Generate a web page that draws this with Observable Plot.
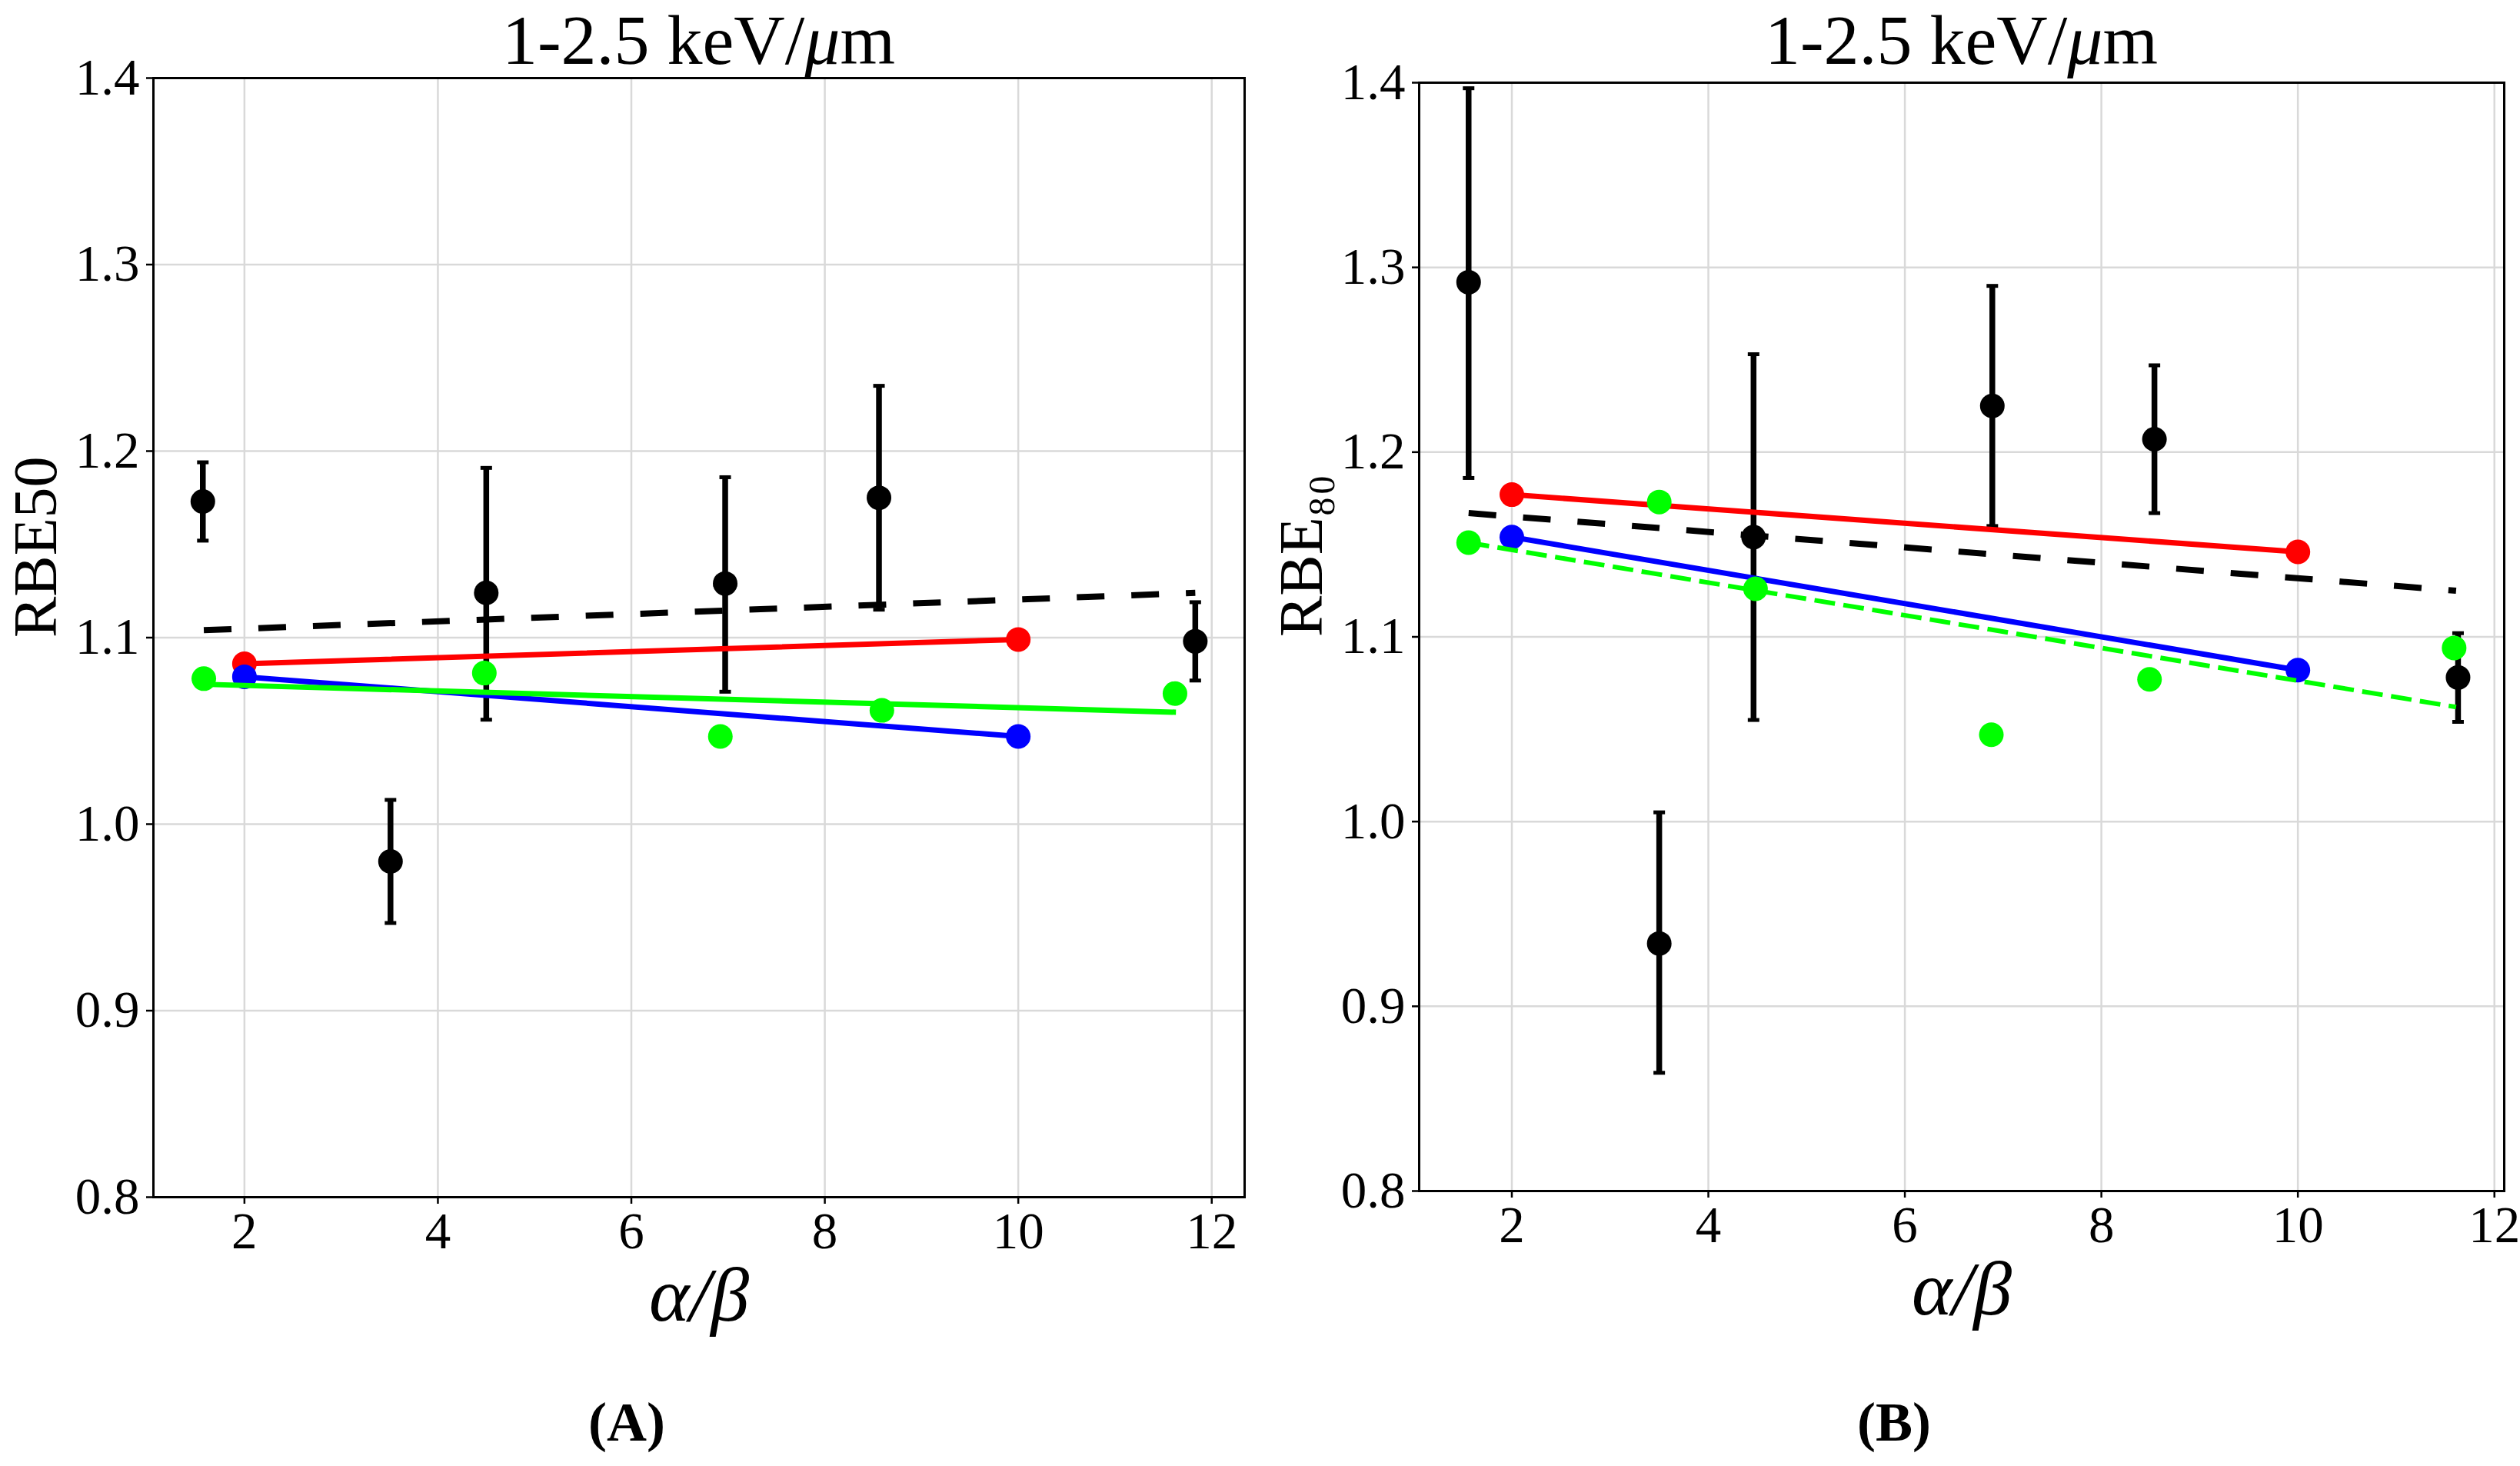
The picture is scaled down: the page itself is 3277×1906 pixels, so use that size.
<!DOCTYPE html>
<html>
<head>
<meta charset="utf-8">
<script src="https://cdn.jsdelivr.net/npm/d3@7"></script>
<script src="https://cdn.jsdelivr.net/npm/@observablehq/plot@0.6"></script>
<style>
  html, body { margin: 0; padding: 0; background: white; }
  #page { position: relative; width: 3277px; height: 1906px; overflow: hidden; background: white;
          font-family: "Liberation Serif", "DejaVu Serif", serif; color: black; }
  .title { position: absolute; top: 6px; font-size: 92px; line-height: 1; text-align: center; white-space: nowrap; }
  .caption { position: absolute; top: 1813px; font-size: 72px; line-height: 1; text-align: center; font-weight: bold; }
  .panel { position: absolute; top: 95px; }
</style>
</head>
<body>
<div id="page">
  <div class="title" style="left:199px;width:1419px;">1-2.5 keV/<i>μ</i>m</div>
  <div class="title" style="left:1845px;width:1411px;">1-2.5 keV/<i>μ</i>m</div>
  <div class="panel" id="panelA" style="left:0px;"></div>
  <div class="panel" id="panelB" style="left:1640px;"></div>
  <div class="caption" style="left:0px;width:1630px;">(A)</div>
  <div class="caption" style="left:1640px;width:1646px;">(B)</div>
</div>
<script>
// ---- Panel A : RBE50 ----
const abA_black = [1.57, 3.51, 4.50, 6.97, 8.56, 11.83]
const rbe50_black = [1.173, 0.980, 1.124, 1.129, 1.175, 1.098]
const rbe50_lo = [1.152, 0.947, 1.056, 1.071, 1.115, 1.077]
const rbe50_hi = [1.194, 1.013, 1.191, 1.186, 1.235, 1.119]
const abA_green = [1.58, 4.48, 6.92, 8.59, 11.62]
const rbe50_green = [1.078, 1.081, 1.047, 1.061, 1.070]
const fitA_blackX = [1.58, 11.83], fitA_blackY = [1.104, 1.124]
const fitA_redX = [2, 10], fitA_redY = [1.086, 1.099]
const fitA_blueX = [2, 10], fitA_blueY = [1.079, 1.047]
const fitA_greenX = [1.58, 11.63], fitA_greenY = [1.075, 1.060]

// ---- Panel B : RBE80 ----
const abB_black = [1.56, 3.50, 4.46, 6.89, 8.54, 11.63]
const rbe80_black = [1.292, 0.934, 1.154, 1.225, 1.207, 1.078]
const rbe80_lo = [1.186, 0.864, 1.055, 1.160, 1.167, 1.054]
const rbe80_hi = [1.397, 1.005, 1.253, 1.290, 1.247, 1.102]
const abB_green = [1.56, 3.50, 4.48, 6.88, 8.49, 11.59]
const rbe80_green = [1.151, 1.173, 1.126, 1.047, 1.077, 1.094]
const fitB_blackX = [1.56, 11.61], fitB_blackY = [1.167, 1.125]
const fitB_redX = [2, 10], fitB_redY = [1.177, 1.146]
const fitB_blueX = [2, 10], fitB_blueY = [1.154, 1.082]
const fitB_greenX = [1.56, 11.61], fitB_greenY = [1.151, 1.062]

const xTicks = [2, 4, 6, 8, 10, 12]
const yTicks = [0.8, 0.9, 1.0, 1.1, 1.2, 1.3, 1.4]

const pts = (xs, ys, lo, hi) => xs.map((x, i) => ({x, y: ys[i], lo: lo ? lo[i] : null, hi: hi ? hi[i] : null}))

// short horizontal bar used as error-bar cap
const capSymbol = {
  draw(ctx, size) {
    const r = Math.sqrt(size / Math.PI)
    ctx.moveTo(-r, 0)
    ctx.lineTo(r, 0)
  }
}

function panel(cfg) {
  const black = pts(cfg.bx, cfg.by, cfg.lo, cfg.hi)
  const green = pts(cfg.gx, cfg.gy)
  const dash = {strokeLinecap: "butt"}
  return Plot.plot({
    width: cfg.width,
    height: 1685,
    marginTop: cfg.mt,
    marginBottom: 1685 - cfg.mt - cfg.ph,
    marginLeft: cfg.ml,
    marginRight: cfg.mr,
    style: {fontFamily: "Liberation Serif", fontSize: "67px", color: "black", background: "transparent", overflow: "visible"},
    x: {domain: cfg.xdom},
    y: {domain: [0.8, 1.4]},
    marks: [
      Plot.gridX(xTicks, {stroke: "#d9d9d9", strokeOpacity: 1, strokeWidth: 2.5}),
      Plot.gridY(yTicks, {stroke: "#d9d9d9", strokeOpacity: 1, strokeWidth: 2.5}),
      Plot.axisX({ticks: xTicks, tickSize: 9, tickPadding: 10, fontSize: 67, strokeWidth: 2.5, label: null}),
      Plot.axisY({ticks: yTicks, tickSize: 9, tickPadding: 9, fontSize: 67, strokeWidth: 2.5, label: null, tickFormat: d3.format(".1f")}),
      // data with error bars
      Plot.ruleX(black, {x: "x", y1: "lo", y2: "hi", stroke: "black", strokeWidth: 7.5}),
      Plot.dot(black, {x: "x", y: "lo", symbol: capSymbol, r: 7.5, stroke: "black", fill: "none", strokeWidth: 5}),
      Plot.dot(black, {x: "x", y: "hi", symbol: capSymbol, r: 7.5, stroke: "black", fill: "none", strokeWidth: 5}),
      Plot.dot(black, {x: "x", y: "y", r: 16, fill: "black"}),
      // fits
      Plot.line(pts(cfg.kx, cfg.ky), {x: "x", y: "y", stroke: "black", strokeWidth: 8, strokeDasharray: "36,35", ...dash}),
      Plot.line(pts(cfg.rx, cfg.ry), {x: "x", y: "y", stroke: "#ff0000", strokeWidth: 7}),
      Plot.dot(pts(cfg.rx, cfg.ry), {x: "x", y: "y", r: 16, fill: "#ff0000"}),
      Plot.line(pts(cfg.ux, cfg.uy), {x: "x", y: "y", stroke: "#0000ff", strokeWidth: 7}),
      Plot.dot(pts(cfg.ux, cfg.uy), {x: "x", y: "y", r: 16, fill: "#0000ff"}),
      Plot.dot(green, {x: "x", y: "y", r: 16, fill: "#00ff00"}),
      Plot.line(pts(cfg.lgx, cfg.lgy), {x: "x", y: "y", stroke: "#00ff00", strokeWidth: cfg.greenDash ? 6 : 7,
        strokeDasharray: cfg.greenDash ? "27,11" : null, ...dash}),
      // axis titles
      Plot.text([cfg.ylabel], {text: d => d, frameAnchor: "left", dx: -152, rotate: -90, fontSize: 80, fill: "black"}),
      Plot.text(["α/β"], {text: d => d, frameAnchor: "bottom", dy: 160, fontSize: 100, fontStyle: "italic", fill: "black"}),
      Plot.frame({stroke: "black", strokeWidth: 3})
    ]
  })
}

const chartA = panel({
  width: 1640, ml: 199, mr: 22, mt: 6, ph: 1455, xdom: [1.059, 12.34],
  bx: abA_black, by: rbe50_black, lo: rbe50_lo, hi: rbe50_hi,
  gx: abA_green, gy: rbe50_green,
  kx: fitA_blackX, ky: fitA_blackY, rx: fitA_redX, ry: fitA_redY,
  ux: fitA_blueX, uy: fitA_blueY, lgx: fitA_greenX, lgy: fitA_greenY,
  greenDash: false, ylabel: "RBE50"
})
const chartB = panel({
  width: 1637, ml: 205, mr: 21, mt: 12, ph: 1441, xdom: [1.057, 12.10],
  bx: abB_black, by: rbe80_black, lo: rbe80_lo, hi: rbe80_hi,
  gx: abB_green, gy: rbe80_green,
  kx: fitB_blackX, ky: fitB_blackY, rx: fitB_redX, ry: fitB_redY,
  ux: fitB_blueX, uy: fitB_blueY, lgx: fitB_greenX, lgy: fitB_greenY,
  greenDash: true, ylabel: "RBE₈₀"
})

d3.select('#panelA').append(() => chartA)
d3.select('#panelB').append(() => chartB)
</script>
</body>
</html>
